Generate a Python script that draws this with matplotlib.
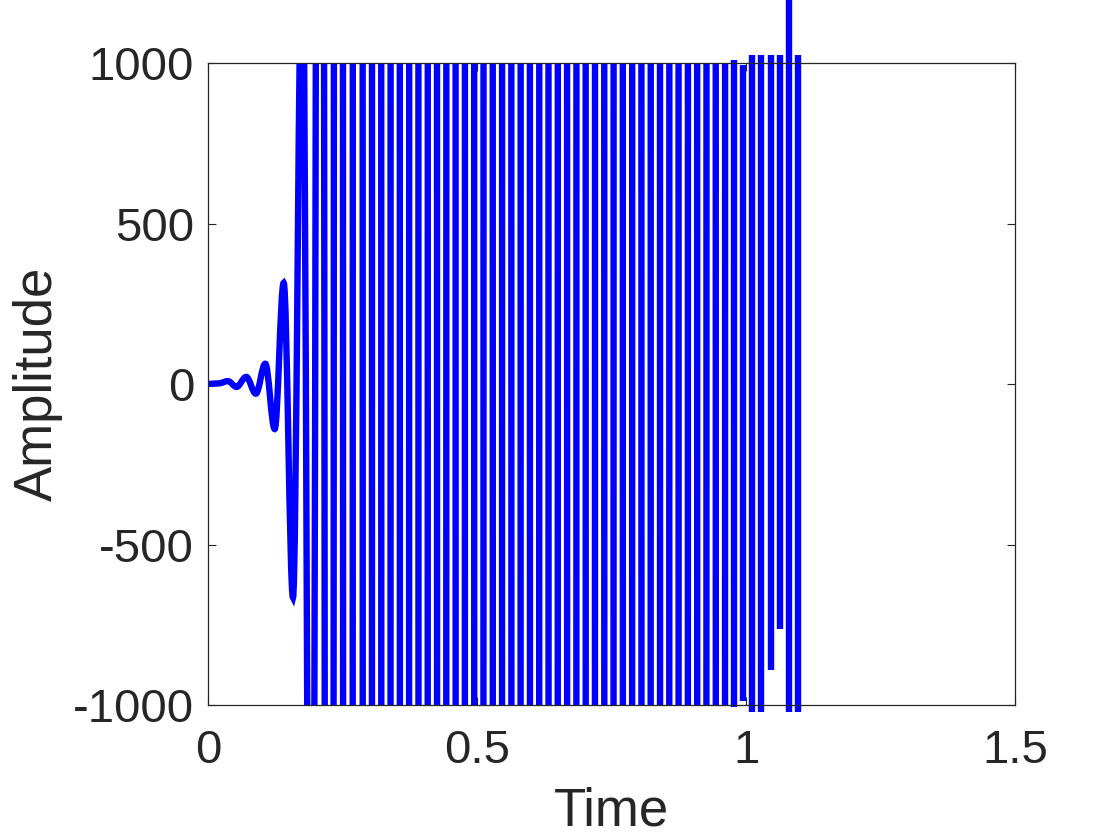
import matplotlib
matplotlib.use("Agg")
from matplotlib import pyplot as plt
from matplotlib.path import Path
from matplotlib.patches import PathPatch

plt.rcParams['font.family'] = ['Liberation Sans', 'DejaVu Sans']

# extrema of the signal (time, amplitude); the big ones run far off the axes
peak_t = [0.0, 0.020, 0.037, 0.053, 0.071, 0.089, 0.1065, 0.124, 0.1407,
          0.158, 0.1753, 0.1926, 0.2098, 0.2271, 0.2444, 0.2616, 0.2789,
          0.2962, 0.3134, 0.3307, 0.3480, 0.3652, 0.3825, 0.3998, 0.4171,
          0.4343, 0.4516, 0.4689, 0.4861, 0.5034, 0.5207, 0.5379, 0.5552,
          0.5725, 0.5897, 0.6070, 0.6243, 0.6415, 0.6588, 0.6761, 0.6934,
          0.7106, 0.7279, 0.7452, 0.7624, 0.7797, 0.7970, 0.8142, 0.8315,
          0.8488, 0.8660, 0.8833, 0.9006, 0.9178, 0.9351, 0.9524, 0.9697]
peak_y = [0, 2, 9, -9, 22, -30, 63, -140, 315,
          -665, 1430, -3050, 6500, -14000, 30000, -65000, 1e5,
          -1e5, 1e5, -1e5, 1e5, -1e5, 1e5, -1e5, 1e5,
          -1e5, 1e5, -1e5, 1e5, -1e5, 1e5, -1e5, 1e5,
          -1e5, 1e5, -1e5, 1e5, -1e5, 1e5, -1e5, 1e5,
          -1e5, 1e5, -1e5, 1e5, -1e5, 1e5, -1e5, 1e5,
          -1e5, 1e5, -1e5, 1e5, -1e5, 1e5, -1e5, 1e5]

# last strokes near t=1, as they end on the exported picture
tail_t = [0.978, 0.994, 1.011, 1.028, 1.047, 1.063, 1.080, 1.097]
tail_lo = [-1005, -988, -1021, -1021, -891, -763, -1021, -1021]
tail_hi = [1009, 993, 1025, 1025, 1025, 1025, 1300, 1025]

xticks = [0, 0.5, 1, 1.5]
xlabels = ['0', '0.5', '1', '1.5']
yticks = [-1000, -500, 0, 500, 1000]
ylabels = ['-1000', '-500', '0', '500', '1000']

fig = plt.figure(figsize=(11.2, 8.4), dpi=100)
ax = fig.add_axes([0.1857, 0.1607, 0.7206, 0.7643])

# smooth curve through the extrema (horizontal tangents at each one)
verts = [(peak_t[0], peak_y[0])]
codes = [Path.MOVETO]
for i in range(len(peak_t) - 1):
    t0, y0, t1, y1 = peak_t[i], peak_y[i], peak_t[i+1], peak_y[i+1]
    dt = t1 - t0
    verts += [(t0 + 0.3634*dt, y0), (t1 - 0.3634*dt, y1), (t1, y1)]
    codes += [Path.CURVE4] * 3
ax.add_patch(PathPatch(Path(verts, codes), fill=False, edgecolor='#0000FF',
                       lw=4.6, zorder=2))

ax.vlines(tail_t, tail_lo, tail_hi, colors='#0000FF', lw=4.6, clip_on=False, zorder=2)

ax.set_xlim(0, 1.5)
ax.set_ylim(-1000, 1000)
ax.set_xticks(xticks, xlabels)
ax.set_yticks(yticks, ylabels)
ax.set_axisbelow(True)
ax.tick_params(direction='in', length=5.8, width=0.8, color='#262626',
               top=True, right=True, labelsize=34, labelcolor='#262626')
ax.tick_params(axis='x', pad=17)
ax.tick_params(axis='y', pad=10)
for s in ax.spines.values():
    s.set_linewidth(0.9)
    s.set_color('#262626')

ax.set_xlabel('Time', fontsize=38, color='#262626', labelpad=10)
ax.set_ylabel('Amplitude', fontsize=38, color='#262626', labelpad=7)

fig.savefig('out.png', dpi=100)
